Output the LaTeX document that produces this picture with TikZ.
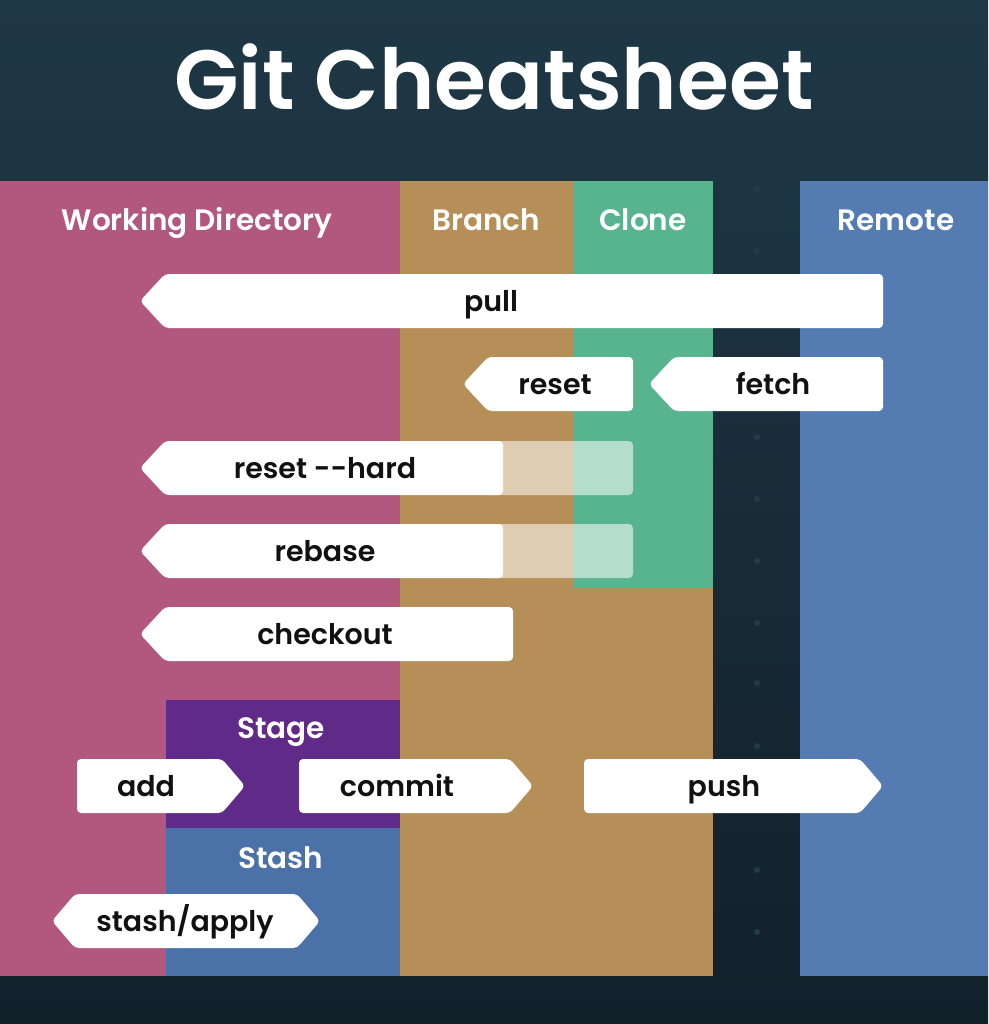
\documentclass[tikz,border=0pt]{standalone}
\usepackage{fontspec}
\setmainfont{Poppins}
\newfontfamily\popsemi{Poppins SemiBold}
\definecolor{bgtop}{HTML}{1F3846}
\definecolor{bgbot}{HTML}{12202A}
\definecolor{wdcol}{HTML}{B2587F}
\definecolor{brcol}{HTML}{B68E57}
\definecolor{clcol}{HTML}{58B48F}
\definecolor{rmcol}{HTML}{547CB2}
\definecolor{stcol}{HTML}{602A88}
\definecolor{shcol}{HTML}{4B72A8}
\definecolor{ink}{HTML}{111111}
\definecolor{dotcol}{HTML}{223C47}
\begin{document}
\begin{tikzpicture}[x=1pt,y=-1pt,
  tagbox/.style={fill=white, rounded corners=4pt},
  fadebox/.style={fill=white, fill opacity=0.55, rounded corners=4pt},
  tagtext/.style={anchor=base, font=\popsemi\fontsize{28.5}{30}\selectfont, text=ink, inner sep=0pt},
  headtext/.style={anchor=base, font=\popsemi\fontsize{29.5}{31}\selectfont, text=white, inner sep=0pt},
  titletext/.style={anchor=base, font=\popsemi\fontsize{84}{88}\selectfont, text=white, inner sep=0pt}]
\useasboundingbox (0,0) rectangle (988,1024);
\shade[top color=bgtop, bottom color=bgbot] (0,0) rectangle (988,1024);
% faint dots
\foreach \yy in {189,251,313,437,499,561,623,683,746,870,932}
  \fill[dotcol] (757,\yy) circle (3);
% columns
\fill[wdcol] (0,181) rectangle (400,976);
\fill[brcol] (400,181) rectangle (713,976);
\fill[clcol] (573,181) rectangle (713,588);
\fill[rmcol] (800,181) rectangle (988,976);
\fill[stcol] (166,700) rectangle (400,828);
\fill[shcol] (166,828) rectangle (400,976);
% title and headers
\node[titletext] (title) at (494,110) {Git Cheatsheet};
\node[headtext] (wd) at (197,231) {Working Directory};
\node[headtext] (br) at (486,231) {Branch};
\node[headtext] (cl) at (643,231) {Clone};
\node[headtext] (rm) at (896,231) {Remote};
\node[headtext] (stage) at (281,738) {Stage};
\node[headtext] (stash) at (281,868) {Stash};
% left-pointing tags
\fill[tagbox] (140,301) -- (165,274) -- (883,274) -- (883,328) -- (165,328) -- cycle;
\node[tagtext] (pull) at (491,311) {pull};
\fill[tagbox] (463,384) -- (488,357) -- (633,357) -- (633,411) -- (488,411) -- cycle;
\node[tagtext] (reset) at (555,394) {reset};
\fill[tagbox] (649,384) -- (674,357) -- (883,357) -- (883,411) -- (674,411) -- cycle;
\node[tagtext] (fetch) at (773,394) {fetch};
\fill[fadebox] (480,441) rectangle (633,495);
\fill[tagbox] (140,468) -- (165,441) -- (503,441) -- (503,495) -- (165,495) -- cycle;
\node[tagtext] (hard) at (325,478) {reset {-}{-}hard};
\fill[fadebox] (480,524) rectangle (633,578);
\fill[tagbox] (140,551) -- (165,524) -- (503,524) -- (503,578) -- (165,578) -- cycle;
\node[tagtext] (rebase) at (325,561) {rebase};
\fill[tagbox] (140,634) -- (165,607) -- (513,607) -- (513,661) -- (165,661) -- cycle;
\node[tagtext] (checkout) at (325,644) {checkout};
% right-pointing tags
\fill[tagbox] (77,759) -- (222,759) -- (245,786) -- (222,813) -- (77,813) -- cycle;
\node[tagtext] (add) at (146,796) {add};
\fill[tagbox] (299,759) -- (510,759) -- (533,786) -- (510,813) -- (299,813) -- cycle;
\node[tagtext] (commit) at (397,796) {commit};
\fill[tagbox] (584,759) -- (860,759) -- (883,786) -- (860,813) -- (584,813) -- cycle;
\node[tagtext] (push) at (724,796) {push};
% double-pointed tag
\fill[tagbox] (52,921) -- (75,894) -- (297,894) -- (320,921) -- (297,948) -- (75,948) -- cycle;
\node[tagtext] (sa) at (185,931) {stash/apply};
\end{tikzpicture}
\end{document}
